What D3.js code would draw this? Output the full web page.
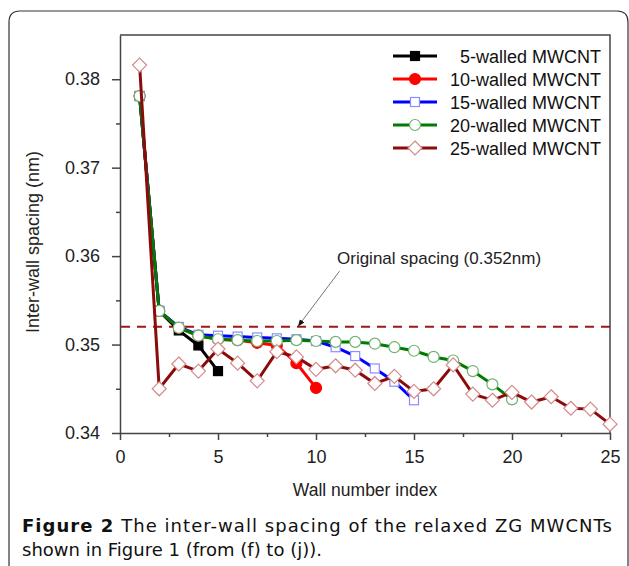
<!DOCTYPE html>
<html>
<head>
<meta charset="utf-8">
<script src="https://cdn.jsdelivr.net/npm/d3@7"></script>
<style>
  body { margin: 0; background: #fff; }
  svg { display: block; }
  .axis text { font-family: "Liberation Sans", Arial, sans-serif; font-size: 18px; fill: #222; }
  .axis path, .axis line { stroke: #444; stroke-width: 1.5; }
</style>
</head>
<body>
<div id="chart"></div>
<script>
// Width and Height of the whole picture
var width = 629;
var height = 566;

// Data (inter-wall spacing in nm, wall index starts at 1)
var seriesNames = ["5-walled MWCNT", "10-walled MWCNT", "15-walled MWCNT", "20-walled MWCNT", "25-walled MWCNT"];
var spacing5 = [0.3781, 0.3538, 0.3516, 0.3499, 0.3470];
var spacing10 = [0.3781, 0.3538, 0.3519, 0.3510, 0.3506, 0.3505, 0.3502, 0.3499, 0.3479, 0.3451];
var spacing15 = [0.3781, 0.3538, 0.3520, 0.3511, 0.3510, 0.3509, 0.3508, 0.3507, 0.3506, 0.3504,
                 0.3497, 0.3487, 0.3473, 0.3458, 0.3437];
var spacing20 = [0.3781, 0.3538, 0.3519, 0.3510, 0.3506, 0.3505, 0.3504, 0.3504, 0.3505, 0.3504,
                 0.3503, 0.3503, 0.3501, 0.3497, 0.3493, 0.3486, 0.3482, 0.3470, 0.3455, 0.3438];
var spacing25 = [0.3816, 0.3450, 0.3478, 0.3470, 0.3495, 0.3479, 0.3459, 0.3492, 0.3486, 0.3472,
                 0.3476, 0.3471, 0.3456, 0.3464, 0.3447, 0.3450, 0.3477, 0.3444, 0.3437, 0.3446,
                 0.3435, 0.3441, 0.3428, 0.3427, 0.3410];
var originalSpacing = 0.352;

// Tick values
var xTicks = [0, 5, 10, 15, 20, 25];
var xMinor = [2.5, 7.5, 12.5, 17.5, 22.5];
var yTicks = [0.34, 0.35, 0.36, 0.37, 0.38];
var yMinor = [0.345, 0.355, 0.365, 0.375];

// Styling per series
var styles = [
  { line: "#000000", marker: "square", fill: "#000000", stroke: "#000000" },
  { line: "#ff0000", marker: "circle", fill: "#ff0000", stroke: "#ff0000" },
  { line: "#0000ff", marker: "square", fill: "#ffffff", stroke: "#8c8cff" },
  { line: "#007a00", marker: "circle", fill: "#ffffff", stroke: "#6fb36f" },
  { line: "#8b0a0a", marker: "diamond", fill: "#ffffff", stroke: "#d48a8a" }
];
var allSeries = [spacing5, spacing10, spacing15, spacing20, spacing25];

var svg = d3.select("#chart").append("svg")
  .attr("width", width)
  .attr("height", height);

// Outer rounded frame of the figure
svg.append("path")
  .attr("d", "M9,566 L9,22 Q9,11 20,11 L617,11 Q628,11 628,22 L628,566")
  .attr("fill", "none")
  .attr("stroke", "#333")
  .attr("stroke-width", 1.2);

// Plot area
var plotLeft = 120, plotRight = 610, plotTop = 35, plotBottom = 433;

var x = d3.scaleLinear().domain([0, 25]).range([plotLeft, plotRight]);
var y = d3.scaleLinear().domain([0.34, 0.385]).range([plotBottom, plotTop]);

// Minor ticks first
var gx = svg.append("g").attr("class", "axis").attr("transform", "translate(0," + plotBottom + ")");
gx.call(d3.axisBottom(x).tickValues(xMinor).tickSize(4).tickFormat(""));
gx.select(".domain").remove();
var gx2 = svg.append("g").attr("class", "axis").attr("transform", "translate(0," + plotBottom + ")");
gx2.call(d3.axisBottom(x).tickValues(xTicks).tickSize(7).tickSizeOuter(0).tickPadding(10).tickFormat(d3.format("d")));

var gy = svg.append("g").attr("class", "axis").attr("transform", "translate(" + plotLeft + ",0)");
gy.call(d3.axisLeft(y).tickValues(yMinor).tickSize(4).tickFormat(""));
gy.select(".domain").remove();
var gy2 = svg.append("g").attr("class", "axis").attr("transform", "translate(" + plotLeft + ",0)");
gy2.call(d3.axisLeft(y).tickValues(yTicks).tickSize(8).tickSizeOuter(0).tickPadding(12).tickFormat(d3.format(".2f")));

// top and right border
svg.append("path")
  .attr("d", "M" + plotLeft + "," + plotTop + " L" + plotRight + "," + plotTop + " L" + plotRight + "," + plotBottom)
  .attr("fill", "none")
  .attr("stroke", "#444")
  .attr("stroke-width", 1.5);

// Axis titles
svg.append("text")
  .attr("x", (plotLeft + plotRight) / 2)
  .attr("y", 496)
  .attr("text-anchor", "middle")
  .style("font-family", "'Liberation Sans', Arial, sans-serif")
  .style("font-size", "17.5px")
  .style("fill", "#222")
  .text("Wall number index");

svg.append("text")
  .attr("transform", "translate(39," + ((plotTop + plotBottom) / 2 + 8) + ") rotate(-90)")
  .attr("text-anchor", "middle")
  .style("font-family", "'Liberation Sans', Arial, sans-serif")
  .style("font-size", "18px")
  .style("fill", "#222")
  .text("Inter-wall spacing (nm)");

// Original spacing dashed line
svg.append("line")
  .attr("x1", x(0) + 1)
  .attr("x2", x(25))
  .attr("y1", y(originalSpacing))
  .attr("y2", y(originalSpacing))
  .attr("stroke", "#a31515")
  .attr("stroke-width", 2)
  .attr("stroke-dasharray", "9,7");

// Annotation with arrow
svg.append("defs").append("marker")
  .attr("id", "arrow")
  .attr("viewBox", "0 0 10 10")
  .attr("refX", 9).attr("refY", 5)
  .attr("markerWidth", 7).attr("markerHeight", 7)
  .attr("orient", "auto")
  .append("path")
  .attr("d", "M0,1 L10,5 L0,9 Z")
  .attr("fill", "#111");

svg.append("line")
  .attr("x1", x(11.2)).attr("y1", y(0.3583))
  .attr("x2", x(9.1)).attr("y2", y(originalSpacing) - 1)
  .attr("stroke", "#777")
  .attr("stroke-width", 1)
  .attr("marker-end", "url(#arrow)");

svg.append("text")
  .attr("x", 337)
  .attr("y", 264)
  .style("font-family", "'Liberation Sans', Arial, sans-serif")
  .style("font-size", "17px")
  .style("fill", "#222")
  .text("Original spacing (0.352nm)");

// Series lines and markers
var line = d3.line()
  .x(function(d, i) { return x(i + 1); })
  .y(function(d) { return y(d); });

function drawMarker(g, type, cx, cy, s) {
  if (type == "square") {
    g.append("rect")
      .attr("x", cx - 4.5).attr("y", cy - 4.5)
      .attr("width", 9).attr("height", 9)
      .attr("fill", s.fill).attr("stroke", s.stroke).attr("stroke-width", 1.2);
  } else if (type == "circle") {
    g.append("circle")
      .attr("cx", cx).attr("cy", cy).attr("r", 5.5)
      .attr("fill", s.fill).attr("stroke", s.stroke).attr("stroke-width", 1.2);
  } else {
    g.append("path")
      .attr("d", "M" + cx + "," + (cy - 7) + " L" + (cx + 7) + "," + cy + " L" + cx + "," + (cy + 7) + " L" + (cx - 7) + "," + cy + " Z")
      .attr("fill", s.fill).attr("stroke", s.stroke).attr("stroke-width", 1.2);
  }
}

allSeries.forEach(function(data, k) {
  var s = styles[k];
  var g = svg.append("g").attr("class", "series");
  g.append("path")
    .datum(data)
    .attr("d", line)
    .attr("fill", "none")
    .attr("stroke", s.line)
    .attr("stroke-width", 3);
  data.forEach(function(d, i) {
    drawMarker(g, s.marker, x(i + 1), y(d), s);
  });
});

// Legend
var legend = svg.append("g").attr("class", "legend");
seriesNames.forEach(function(name, k) {
  var s = styles[k];
  var ly = 56 + k * 23;
  legend.append("line")
    .attr("x1", 393).attr("x2", 437)
    .attr("y1", ly).attr("y2", ly)
    .attr("stroke", s.line)
    .attr("stroke-width", 3);
  drawMarker(legend, s.marker, 415, ly, s);
  legend.append("text")
    .attr("x", 601)
    .attr("y", ly + 6.5)
    .attr("text-anchor", "end")
    .style("font-family", "'Liberation Sans', Arial, sans-serif")
    .style("font-size", "18px")
    .style("fill", "#111")
    .text(name);
});

// Caption
var cap = svg.append("text")
  .attr("x", 22)
  .attr("y", 532)
  .attr("textLength", 590)
  .attr("lengthAdjust", "spacing")
  .style("font-family", "'DejaVu Sans', sans-serif")
  .style("font-size", "18px")
  .style("fill", "#111");
cap.append("tspan").style("font-weight", "bold").text("Figure 2");
cap.append("tspan").text(" The inter-wall spacing of the relaxed ZG MWCNTs");

svg.append("text")
  .attr("x", 22)
  .attr("y", 556)
  .style("font-family", "'DejaVu Sans', sans-serif")
  .style("font-size", "18px")
  .style("fill", "#111")
  .text("shown in Figure 1 (from (f) to (j)).");
</script>
</body>
</html>
